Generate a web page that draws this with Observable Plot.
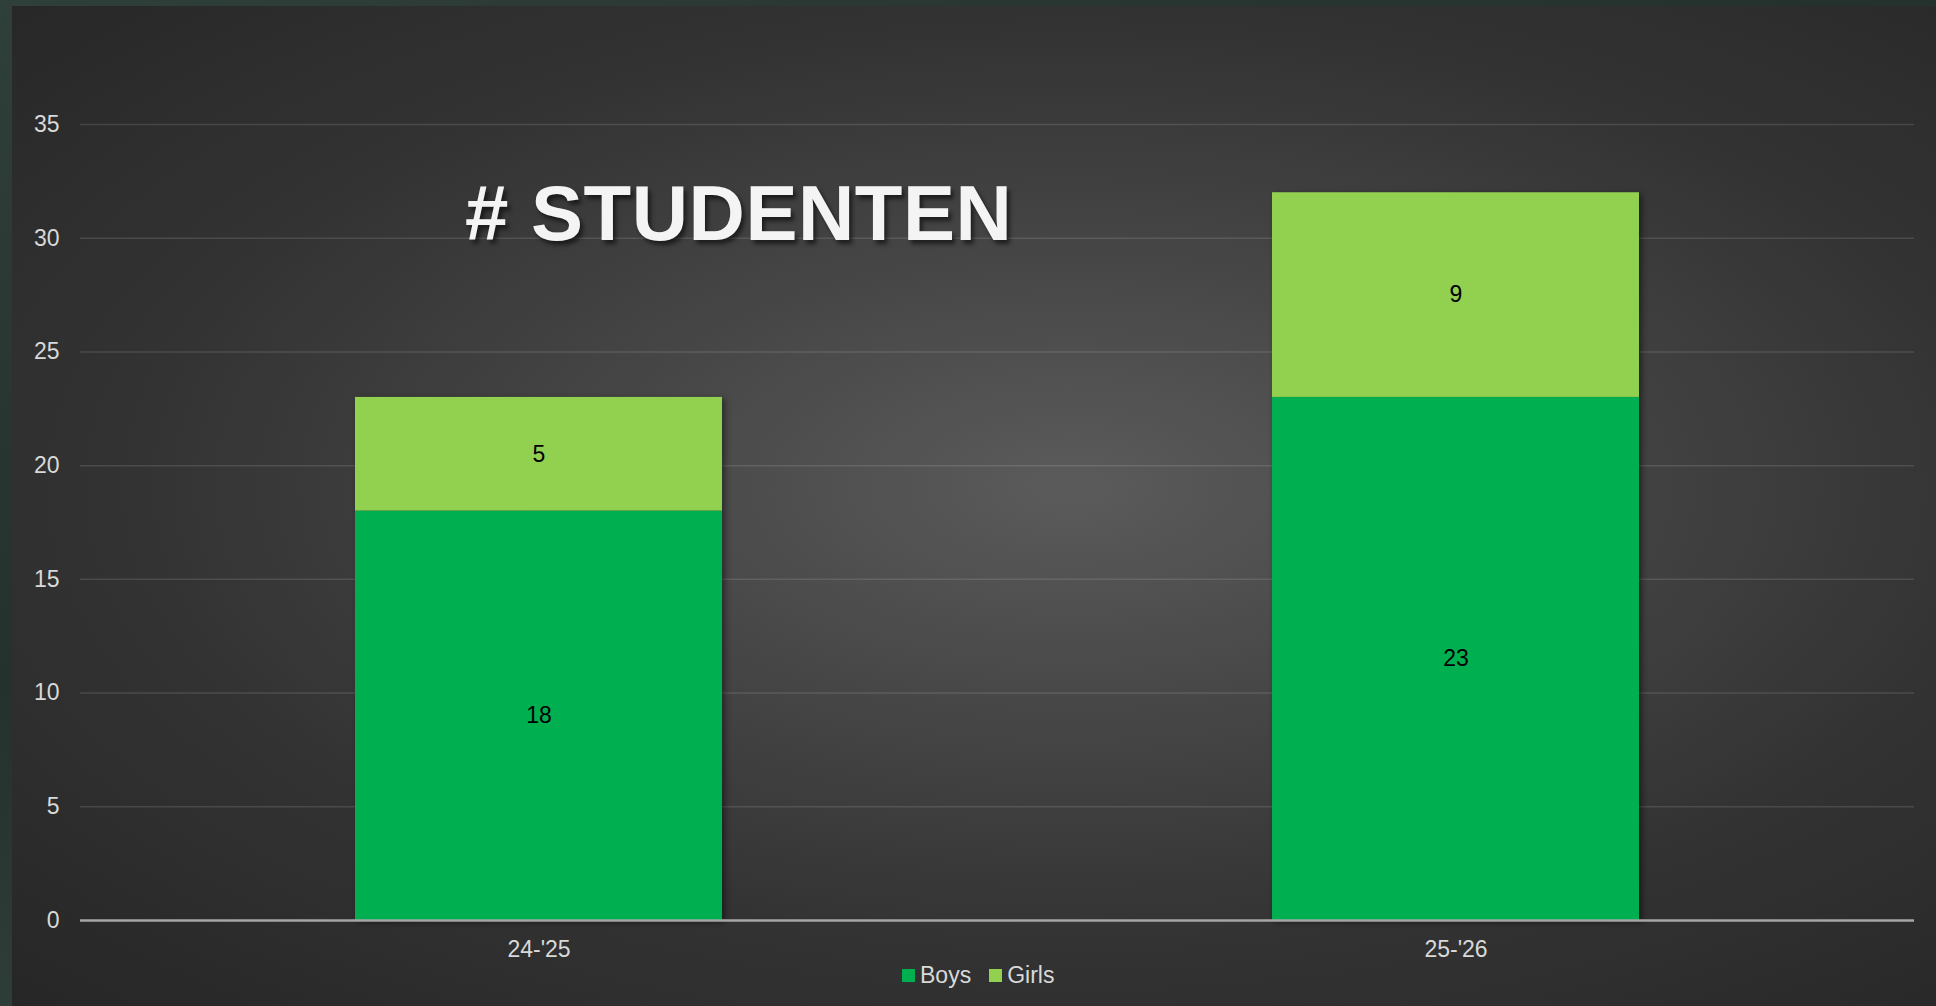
<!DOCTYPE html>
<html>
<head>
<meta charset="utf-8">
<script src="https://cdn.jsdelivr.net/npm/d3@7"></script>
<script src="https://cdn.jsdelivr.net/npm/@observablehq/plot@0.6"></script>
<style>
  html, body { margin: 0; padding: 0; width: 1936px; height: 1006px; overflow: hidden; }
  body {
    background: linear-gradient(160deg, #2f3f3a 0%, #24312d 40%, #33443f 70%, #26332f 100%);
    font-family: "Liberation Sans", Arial, sans-serif;
    position: relative;
  }
  #panel {
    position: absolute; left: 12px; top: 6px; width: 1924px; height: 1000px;
    background: radial-gradient(ellipse farthest-corner at 55% 48%, #5b5b5b 0%, #474747 30%, #333333 62%, #262626 100%);
  }
  #chart { position: absolute; left: 0; top: 0; }
  #title {
    position: absolute; left: 465px; top: 174px;
    font-family: "Liberation Sans", Arial, sans-serif;
    font-weight: bold; font-size: 78px; line-height: 78px;
    letter-spacing: 0.5px;
    color: #f4f4f4; white-space: nowrap;
    text-shadow: 3px 4px 4px rgba(0,0,0,0.55);
  }
  #legend {
    position: absolute; left: 902px; top: 960px; height: 30px;
    display: flex; align-items: center; gap: 18px;
    font-size: 23px; color: #d9d9d9; line-height: 30px;
  }
  #legend .item { display: flex; align-items: center; gap: 5px; }
  #legend .sw { width: 13px; height: 13px; display: inline-block; }
</style>
</head>
<body>
<div id="panel"></div>
<div id="chart"></div>
<div id="title"># STUDENTEN</div>
<div id="legend"></div>
<script>
// ---- data ----
const years = ["24-'25", "25-'26"];
const series = ["Boys", "Girls"];
const boys = [18, 23];
const girls = [5, 9];
const colors = ["#00B050", "#92D050"];
const yTicks = [0, 5, 10, 15, 20, 25, 30, 35];

const rows = [];
years.forEach((yr, i) => {
  rows.push({year: yr, sex: "Boys", value: boys[i]});
  rows.push({year: yr, sex: "Girls", value: girls[i]});
});

const plot = Plot.plot({
  width: 1936,
  height: 960,
  marginLeft: 80,
  marginRight: 22,
  marginTop: 124,
  marginBottom: 40,
  style: {
    background: "transparent",
    color: "#d9d9d9",
    fontFamily: "'Liberation Sans', Arial, sans-serif",
    fontSize: "23px",
    overflow: "visible"
  },
  x: {domain: years, paddingInner: 0.6, paddingOuter: 0.3, label: null},
  y: {domain: [0, 35], label: null},
  color: {domain: series, range: colors},
  marks: [
    Plot.gridY(yTicks.filter(d => d > 0), {stroke: "#ffffff", strokeOpacity: 0.12, strokeWidth: 1.5}),
    Plot.axisY({ticks: yTicks, tickSize: 0, tickPadding: 21, label: null, fill: "#d9d9d9"}),
    Plot.axisX({tickSize: 0, tickPadding: 20, label: null, fill: "#d9d9d9"}),
    Plot.barY(rows, {x: "year", y: "value", fill: "sex"}),
    Plot.ruleY([0], {stroke: "#a6a6a6", strokeWidth: 2.5}),
    Plot.text(rows, Plot.stackY({x: "year", y: "value", z: "sex", text: d => String(d.value), fill: "#000000", fontSize: 23}))
  ]
});

document.getElementById("chart").appendChild(plot);
d3.select(plot).selectAll("g[aria-label='bar']")
  .style("filter", "drop-shadow(3px 2px 3px rgba(0,0,0,0.45))");

const legend = document.getElementById("legend");
series.forEach((s, i) => {
  const item = document.createElement("div");
  item.className = "item";
  const sw = document.createElement("span");
  sw.className = "sw";
  sw.style.background = colors[i];
  const t = document.createElement("span");
  t.textContent = s;
  item.appendChild(sw);
  item.appendChild(t);
  legend.appendChild(item);
});
</script>
</body>
</html>
